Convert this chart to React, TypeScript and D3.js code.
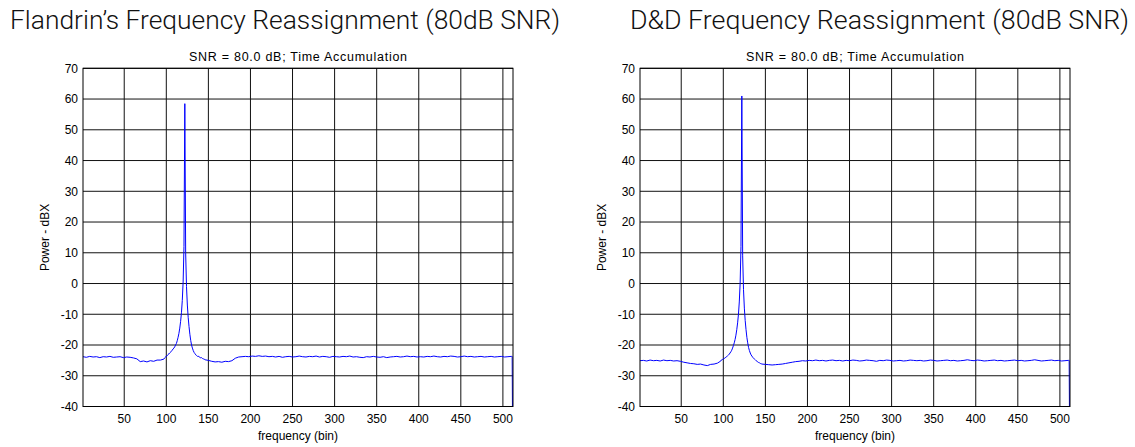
import React from "react";
import * as d3 from "d3";

// ---------- data ----------
const xTicks = [50, 100, 150, 200, 250, 300, 350, 400, 450, 500];
const yTicks = [70, 60, 50, 40, 30, 20, 10, 0, -10, -20, -30, -40];

// Flandrin: bins 1,5,...,97
const flandrinHead = [-23.8, -24.0, -23.7, -23.9, -23.8, -24.1, -23.8, -23.9, -23.7, -24.0, -23.9, -23.8, -24.1, -23.9, -24.0, -24.2, -24.5, -25.4, -25.2, -25.5, -25.1, -25.3, -24.9, -24.9, -24.6];
// Flandrin: bins 98..146
const flandrinPeak = [-24.2, -24.0, -23.6, -23.5, -23.1, -22.9, -22.6, -22.4, -22.0, -21.7, -21.3, -21.0, -20.6, -20.0, -19.5, -18.6, -17.5, -16.2, -14.5, -12.3, -9.5, -5.5, 0.5, 12, 58.5, 10, -1, -7, -11, -14, -16.5, -18.5, -20, -21, -21.8, -22.4, -22.8, -23.2, -23.4, -23.7, -23.6, -23.9, -24.0, -24.2, -24.1, -24.4, -24.5, -24.6, -24.8];
// Flandrin: bins 150,154,...,510
const flandrinTail = [-25.0, -25.3, -25.5, -25.4, -25.6, -25.3, -25.4, -25.1, -24.3, -23.9, -23.8, -23.7, -23.8, -23.6, -23.7, -23.5, -23.7, -23.6, -23.8, -23.7, -23.9, -23.7, -24.0, -23.8, -23.7, -23.9, -23.8, -23.6, -23.8, -23.9, -23.7, -23.8, -23.6, -23.9, -23.7, -23.8, -24.0, -23.7, -23.8, -23.9, -23.7, -23.8, -23.6, -23.9, -23.8, -24.0, -24.1, -23.8, -23.9, -23.7, -23.9, -24.0, -23.8, -24.1, -23.9, -23.8, -23.7, -23.9, -23.8, -23.6, -23.8, -23.7, -23.9, -23.8, -23.9, -23.7, -23.8, -23.6, -23.8, -23.9, -23.7, -23.8, -23.6, -23.7, -23.9, -23.8, -23.6, -23.8, -23.7, -23.9, -23.8, -23.7, -23.9, -23.8, -23.7, -23.9, -23.8, -23.7, -23.9, -23.8, -23.7];
const flandrinLast = -70;

// D&D: bins 1,5,...,97
const ddHead = [-25.1, -25.0, -25.2, -24.9, -25.1, -25.0, -25.2, -24.9, -25.1, -25.0, -25.2, -25.1, -25.3, -25.6, -25.8, -26.0, -26.1, -26.3, -26.2, -26.5, -26.7, -26.3, -26.2, -25.9, -25.2];
// D&D: bins 98..146
const ddPeak = [-24.8, -24.7, -24.5, -24.4, -24.2, -24.0, -23.8, -23.5, -23.3, -23.0, -22.6, -22.2, -21.7, -21.0, -20.2, -19.3, -18.2, -16.8, -15.0, -12.8, -10.0, -6.0, 0, 12, 61, 9, -2, -8, -12, -15, -17.5, -19.3, -20.8, -21.8, -22.6, -23.2, -23.6, -24.0, -24.3, -24.6, -24.8, -25.1, -25.3, -25.5, -25.7, -25.8, -26.0, -26.1, -26.2];
// D&D: bins 150,154,...,510
const ddTail = [-26.3, -26.4, -26.5, -26.4, -26.3, -26.2, -26.0, -25.8, -25.6, -25.4, -25.3, -25.1, -25.2, -25.0, -25.1, -24.9, -25.1, -25.0, -25.2, -25.0, -24.9, -25.1, -25.0, -25.2, -25.0, -25.1, -24.9, -25.0, -25.2, -25.1, -24.9, -25.0, -25.1, -25.3, -25.0, -25.1, -24.9, -25.0, -25.2, -25.1, -25.0, -25.2, -25.1, -24.9, -25.0, -25.1, -25.0, -25.2, -25.1, -24.9, -25.0, -25.2, -25.1, -25.0, -24.9, -25.1, -25.0, -25.2, -25.1, -25.0, -24.8, -25.0, -25.1, -24.9, -25.0, -25.2, -25.1, -25.0, -24.9, -25.1, -25.0, -25.2, -25.1, -25.0, -24.9, -25.1, -25.0, -25.2, -25.1, -25.0, -24.8, -25.0, -25.2, -25.1, -25.0, -24.9, -25.1, -25.0, -25.2, -25.1, -25.0];
const ddLast = -70;

function buildSeries(head: number[], peak: number[], tail: number[], last: number) {
  const pts: [number, number][] = [];
  head.forEach((v, i) => pts.push([1 + 4 * i, v]));
  peak.forEach((v, i) => pts.push([98 + i, v]));
  tail.forEach((v, i) => pts.push([150 + 4 * i, v]));
  pts.push([511, tail[tail.length - 1]]);
  pts.push([512, last]);
  return pts;
}

const panels = [
  {
    id: "a",
    title: "Flandrin\u2019s Frequency Reassignment (80dB SNR)",
    titleX0: 10,
    titleW: 550,
    left: 83,
    right: 513,
    data: buildSeries(flandrinHead, flandrinPeak, flandrinTail, flandrinLast),
  },
  {
    id: "b",
    title: "D&D Frequency Reassignment (80dB SNR)",
    titleX0: 630,
    titleW: 499,
    left: 640,
    right: 1070,
    data: buildSeries(ddHead, ddPeak, ddTail, ddLast),
  },
];

const TOP = 68.3;
const BOTTOM = 406.5;
const FONT = "'Liberation Sans', Arial, Helvetica, sans-serif";

function Panel({ p }: { p: (typeof panels)[number] }) {
  const x = d3.scaleLinear().domain([1, 512]).range([p.left, p.right]);
  const y = d3.scaleLinear().domain([-40, 70]).range([BOTTOM, TOP]);
  const line = d3
    .line<[number, number]>()
    .x((d) => x(d[0]))
    .y((d) => y(d[1]));
  const cx = (p.left + p.right) / 2;
  const cy = (TOP + BOTTOM) / 2;
  return (
    <g>
      <defs>
        <clipPath id={`clip-${p.id}`}>
          <rect x={p.left} y={TOP} width={p.right - p.left} height={BOTTOM - TOP} />
        </clipPath>
      </defs>
      <rect x={p.left} y={TOP} width={p.right - p.left} height={BOTTOM - TOP} fill="#fff" />
      {/* grid */}
      {xTicks.map((t) => (
        <line key={`gx${t}`} x1={x(t)} x2={x(t)} y1={TOP} y2={BOTTOM} stroke="#111" strokeWidth={1} />
      ))}
      {yTicks.map((t) => (
        <line key={`gy${t}`} x1={p.left} x2={p.right} y1={y(t)} y2={y(t)} stroke="#111" strokeWidth={1} />
      ))}
      {/* data */}
      <path
        d={line(p.data) || ""}
        fill="none"
        stroke="#0000ff"
        strokeWidth={1}
        clipPath={`url(#clip-${p.id})`}
      />
      {/* box */}
      <rect x={p.left} y={TOP} width={p.right - p.left} height={BOTTOM - TOP} fill="none" stroke="#000" strokeWidth={1} />
      {/* tick labels */}
      {xTicks.map((t) => (
        <text key={`tx${t}`} x={x(t)} y={423} textAnchor="middle" fontSize={12} fontFamily={FONT} fill="#000">
          {t}
        </text>
      ))}
      {yTicks.map((t) => (
        <text key={`ty${t}`} x={p.left - 5} y={y(t) + 4.3} textAnchor="end" fontSize={12} fontFamily={FONT} fill="#000">
          {t}
        </text>
      ))}
      <text x={cx} y={440} textAnchor="middle" fontSize={12} fontFamily={FONT} fill="#000">
        frequency (bin)
      </text>
      <text
        transform={`translate(${p.left - 34},${cy}) rotate(-90)`}
        textAnchor="middle"
        fontSize={12}
        fontFamily={FONT}
        fill="#000"
      >
        Power - dBX
      </text>
      <text
        x={cx - 109}
        y={61}
        fontSize={12.5}
        fontFamily={FONT}
        textLength={218}
        lengthAdjust="spacing"
        fill="#000"
      >
        SNR = 80.0 dB; Time Accumulation
      </text>
      <text
        x={p.titleX0}
        y={29}
        fontSize={25.5}
        fontWeight={300}
        fontFamily="Roboto, 'Liberation Sans', sans-serif"
        textLength={p.titleW}
        lengthAdjust="spacingAndGlyphs"
        fill="#111"
      >
        {p.title}
      </text>
    </g>
  );
}

export default function App() {
  return (
    <svg
      width={1135}
      height={447}
      style={{ position: "absolute", left: 0, top: 0, background: "#fff" }}
    >
      <rect width={1135} height={447} fill="#fff" />
      {panels.map((p) => (
        <Panel key={p.id} p={p} />
      ))}
    </svg>
  );
}
